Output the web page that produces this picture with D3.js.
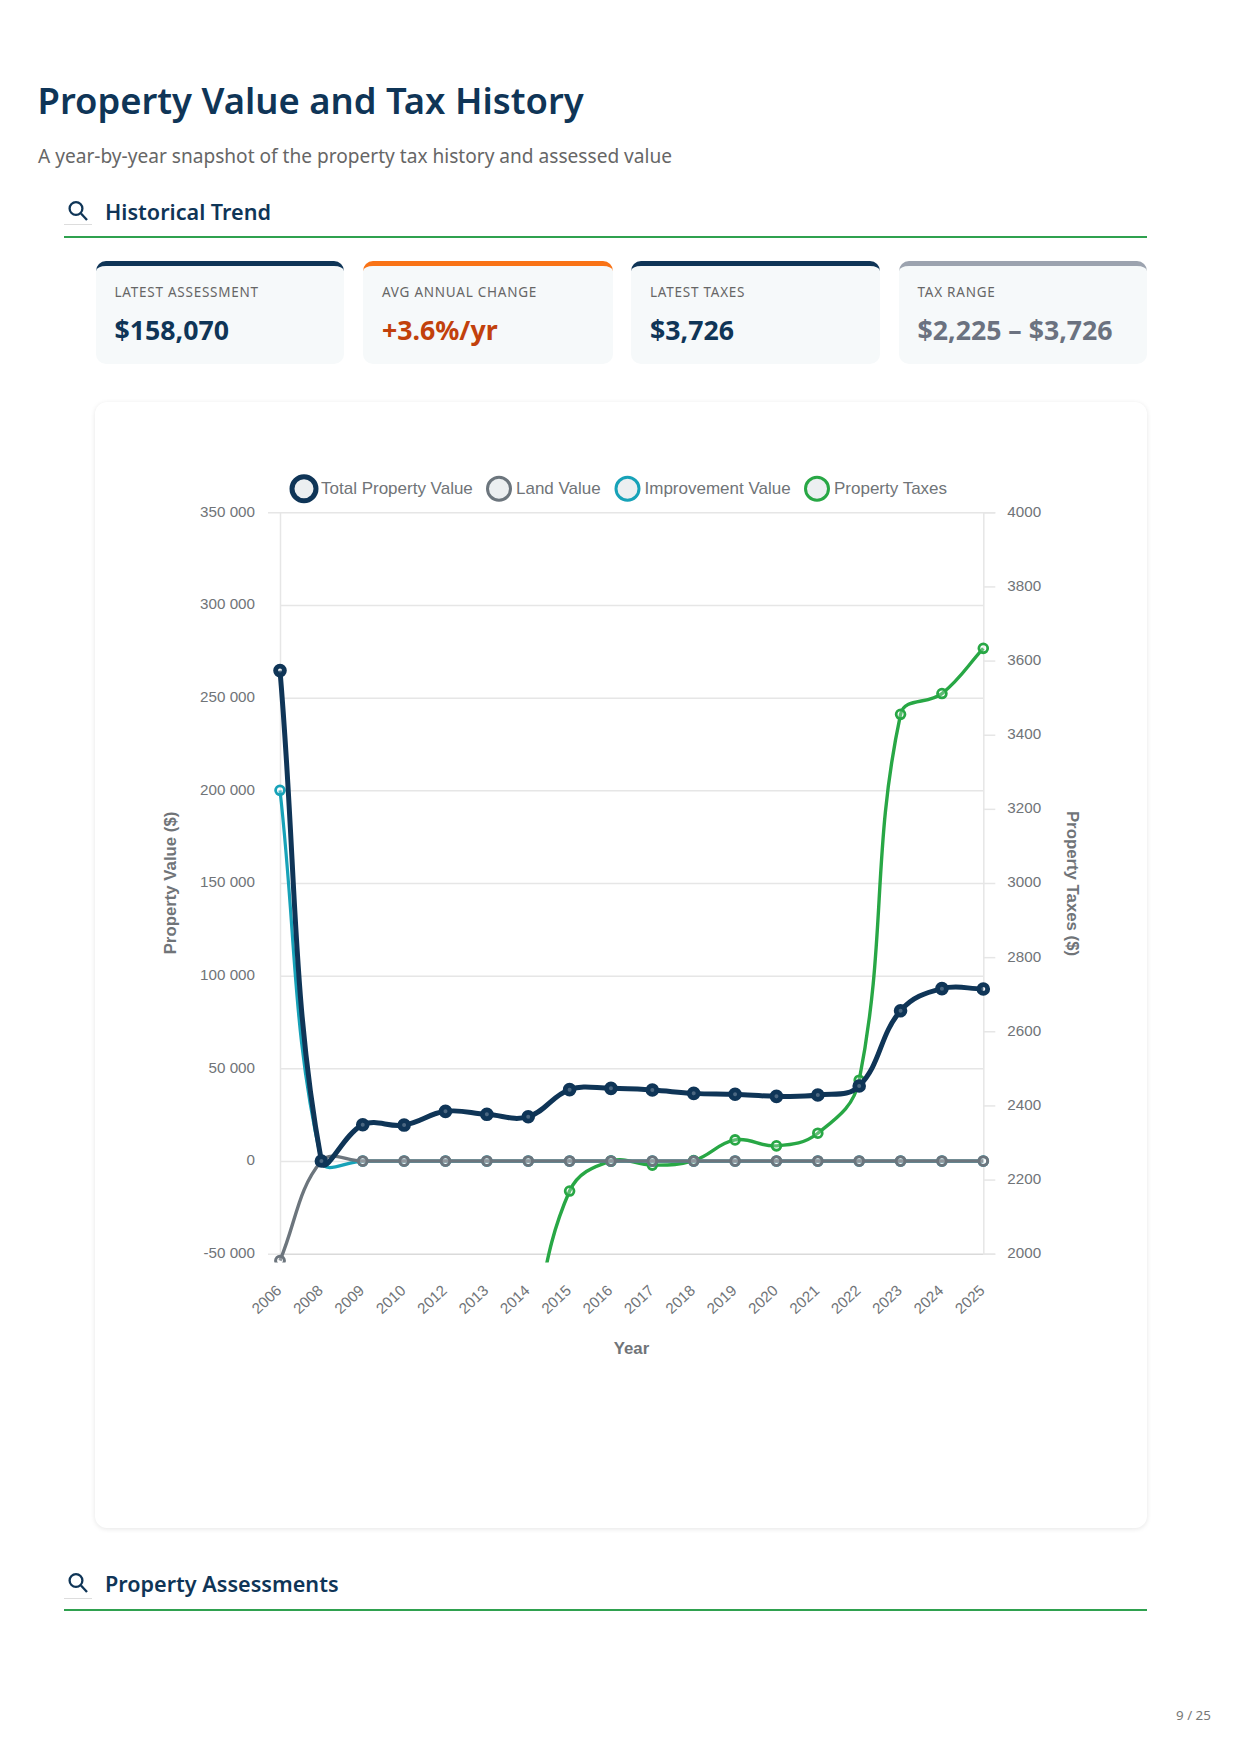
<!DOCTYPE html>
<html>
<head>
<meta charset="utf-8">
<style>
html, body { margin: 0; padding: 0; background: #fff; }
body { width: 1242px; height: 1754px; position: relative; overflow: hidden; font-family: "Noto Sans", sans-serif; }
.abs { position: absolute; white-space: nowrap; }
.page-title { left: 37.5px; top: 72px; font-size: 36.4px; line-height: 56px; font-weight: 600; color: #0f3557; }
.subtitle { left: 38px; top: 141px; font-size: 19.1px; line-height: 30px; color: #666; }
.section-title { left: 105px; font-size: 21.6px; line-height: 32px; font-weight: 600; color: #0f3557; }
.section-rule { left: 64px; width: 1083px; height: 2px; background: #2fa14f; }
.section-stub { left: 64px; width: 28px; height: 1px; background: #ddd; }
.kpi { box-sizing: border-box; top: 261px; height: 103px; border-radius: 10px; border-top: 5px solid; background: #f6f9fa; }
.kpi .lbl { position: absolute; left: 19px; top: 16px; font-size: 13.5px; line-height: 20px; letter-spacing: 0.75px; color: #666; }
.kpi .val { position: absolute; left: 19px; top: 45px; font-size: 26.7px; line-height: 38px; font-weight: 700; }
.chart-card { left: 95px; top: 402px; width: 1052px; height: 1126px; box-sizing: border-box; border-radius: 12px; background: #fff; box-shadow: 0 1px 5px rgba(0,0,0,.10); }
.page-no { left: 1176px; top: 1706px; font-size: 13.4px; line-height: 18px; color: #777; }
svg#chart { position: absolute; left: 0; top: 0; }
svg#chart text { font-family: "Liberation Sans", Arial, sans-serif; }
</style>
</head>
<body>
<div class="abs page-title">Property Value and Tax History</div>
<div class="abs subtitle">A year-by-year snapshot of the property tax history and assessed value</div>
<div class="abs chart-card"></div>
<svg id="chart" width="1242" height="1754"></svg>
<div class="abs page-no">9 / 25</div>
<script src="https://d3js.org/d3.v7.min.js"></script>
<script>
// values
var years = ["2006","2008","2009","2010","2012","2013","2014","2015","2016","2017","2018","2019","2020","2021","2022","2023","2024","2025"];
var totalValue = [264600,0,19600,19400,26800,25200,23900,38500,39200,38300,36500,36000,34900,35600,40500,81100,93000,92800];
var landValue = [-53700,0,0,0,0,0,0,0,0,0,0,0,0,0,0,0,0,0];
var improvementValue = [200000,0,0,0,0,0,0,0,0,0,0,0,0,0,0,0,0,0];
var propertyTaxes = [null,null,null,null,null,null,1740,2169,2250,2239,2251,2307,2291,2325,2468,3455,3511,3633];
var leftTicks = [-50000,0,50000,100000,150000,200000,250000,300000,350000];
var rightTicks = [2000,2200,2400,2600,2800,3000,3200,3400,3600,3800,4000];
var kpiLabels = ["LATEST ASSESSMENT","AVG ANNUAL CHANGE","LATEST TAXES","TAX RANGE"];
var kpiValues = ["$158,070","+3.6%/yr","$3,726","$2,225 – $3,726"];
var sectionNames = ["Historical Trend","Property Assessments"];

var kpiLeft = [95.5,363,631,898.5], kpiWidth = [248,250,248.5,248.5];
var kpiTop = ["#0f3557","#f97316","#0f3557","#9ca3af"], kpiText = ["#0f3557","#c2410c","#0f3557","#6b7280"];
var sectionTop = [196,1568], ruleTop = [236,1609], stubTop = [224,1598];

var body = d3.select("body");
var svg = d3.select("#chart");

var kpi = body.selectAll("div.kpi").data(kpiLabels).enter().append("div")
    .attr("class", "abs kpi")
    .style("left", function(d, i) { return kpiLeft[i] + "px"; })
    .style("width", function(d, i) { return kpiWidth[i] + "px"; })
    .style("border-top-color", function(d, i) { return kpiTop[i]; });
kpi.append("div").attr("class", "lbl").text(function(d) { return d; });
kpi.append("div").attr("class", "val")
    .style("color", function(d, i) { return kpiText[i]; })
    .text(function(d, i) { return kpiValues[i]; });

sectionNames.forEach(function(name, i) {
  body.append("div").attr("class", "abs section-title").style("top", sectionTop[i] + "px").text(name);
  body.append("div").attr("class", "abs section-rule").style("top", ruleTop[i] + "px");
  body.append("div").attr("class", "abs section-stub").style("top", stubTop[i] + "px");
  var icon = svg.append("g").attr("transform", "translate(0," + (sectionTop[i] + 12.5) + ")")
      .attr("fill", "none").attr("stroke", "#0f3557").attr("stroke-width", 2.3);
  icon.append("circle").attr("cx", 76).attr("cy", 0).attr("r", 6.4);
  icon.append("line").attr("x1", 81).attr("y1", 5).attr("x2", 87).attr("y2", 11.5);
});

// same spline the original chart uses (tension 0.4)
function splineCurve(context) {
  var pts;
  return {
    areaStart: function() {}, areaEnd: function() {},
    lineStart: function() { pts = []; },
    point: function(x, y) { pts.push([+x, +y]); },
    lineEnd: function() {
      var t = 0.4, ctrl = pts.map(function(p, i) {
        var a = pts[Math.max(i - 1, 0)], b = pts[Math.min(i + 1, pts.length - 1)];
        var d01 = Math.hypot(p[0] - a[0], p[1] - a[1]), d12 = Math.hypot(b[0] - p[0], b[1] - p[1]);
        var s01 = d01 / (d01 + d12) || 0, s12 = d12 / (d01 + d12) || 0;
        return {
          prev: [p[0] - t * s01 * (b[0] - a[0]), p[1] - t * s01 * (b[1] - a[1])],
          next: [p[0] + t * s12 * (b[0] - a[0]), p[1] + t * s12 * (b[1] - a[1])]
        };
      });
      pts.forEach(function(p, i) {
        if (i == 0) context.moveTo(p[0], p[1]);
        else context.bezierCurveTo(ctrl[i-1].next[0], ctrl[i-1].next[1], ctrl[i].prev[0], ctrl[i].prev[1], p[0], p[1]);
      });
    }
  };
}

var plotLeft = 280, plotRight = 983.3, plotTop = 512.3, plotBottom = 1253.7;
var x = d3.scalePoint().domain(years).range([plotLeft, plotRight]);
var y = d3.scaleLinear().domain([-50000, 350000]).range([plotBottom, plotTop]);
var yTax = d3.scaleLinear().domain([2000, 4000]).range([plotBottom, plotTop]);
var fmt = d3.formatLocale({decimal: ".", thousands: " ", grouping: [3], currency: ["$", ""], minus: "-"}).format(",d");

var gridColor = "#e6e6e6", axisText = "#707478";

var gLeft = svg.append("g").attr("transform", "translate(" + plotLeft + ",0)")
    .call(d3.axisLeft(y).tickValues(leftTicks).tickSize(12).tickPadding(13).tickFormat(fmt));
gLeft.select(".domain").attr("stroke", gridColor).attr("stroke-width", 1.5);
gLeft.selectAll(".tick line").attr("x2", plotRight - plotLeft).attr("stroke-width", 1.5)
    .attr("stroke", function(d) { return d == -50000 ? "#dadada" : gridColor; });

var gRight = svg.append("g").attr("transform", "translate(" + plotRight + ",0)")
    .call(d3.axisRight(yTax).tickValues(rightTicks).tickSize(12).tickPadding(12).tickFormat(d3.format("d")));
gRight.select(".domain").attr("stroke", gridColor).attr("stroke-width", 1.5);
gRight.selectAll(".tick line").attr("stroke", gridColor).attr("stroke-width", 1.5);
svg.selectAll(".tick text").attr("dy", "0.26em");

var gBottom = svg.append("g").attr("transform", "translate(0," + plotBottom + ")")
    .call(d3.axisBottom(x).tickSize(0).tickPadding(0));
gBottom.select(".domain").attr("stroke", "none");
gBottom.selectAll(".tick text")
    .attr("text-anchor", "end")
    .attr("dy", 0)
    .attr("y", 0)
    .attr("transform", "translate(2,38) rotate(-43)");

svg.selectAll(".tick text").attr("fill", axisText).style("font-size", "15.2px");

svg.append("text").attr("transform", "translate(176,883) rotate(-90)")
    .attr("text-anchor", "middle").attr("font-weight", "bold").attr("font-size", 16.8).attr("fill", axisText)
    .text("Property Value ($)");
svg.append("text").attr("transform", "translate(1067,883.5) rotate(90)")
    .attr("text-anchor", "middle").attr("font-weight", "bold").attr("font-size", 16.8).attr("fill", axisText)
    .text("Property Taxes ($)");
svg.append("text").attr("x", 631.5).attr("y", 1354)
    .attr("text-anchor", "middle").attr("font-weight", "bold").attr("font-size", 16.8).attr("fill", axisText)
    .text("Year");

var series = [
  {name: "Property Taxes", values: propertyTaxes, scale: yTax, color: "#28a745", width: 3.4, r: 4.4, sw: 2.8, legendX: 817, legendR: 11.5, legendSw: 3},
  {name: "Improvement Value", values: improvementValue, scale: y, color: "#17a2b8", width: 3.2, r: 4.4, sw: 2.8, legendX: 627.5, legendR: 11.5, legendSw: 3},
  {name: "Land Value", values: landValue, scale: y, color: "#6c757d", width: 3.4, r: 4.4, sw: 3, legendX: 499, legendR: 11.5, legendSw: 3},
  {name: "Total Property Value", values: totalValue, scale: y, color: "#0f3557", width: 5, r: 4.4, sw: 4.8, legendX: 304, legendR: 12, legendSw: 5}
];

svg.append("defs").append("clipPath").attr("id", "plot-clip").append("rect")
    .attr("x", plotLeft - 14).attr("y", plotTop - 14).attr("width", plotRight - plotLeft + 28).attr("height", plotBottom + 8.8 - plotTop + 14);
var plot = svg.append("g").attr("clip-path", "url(#plot-clip)");

series.forEach(function(s) {
  var line = d3.line().curve(splineCurve)
      .defined(function(d) { return d != null; })
      .x(function(d, i) { return x(years[i]); })
      .y(function(d) { return s.scale(d); });
  plot.append("path").attr("d", line(s.values)).attr("fill", "none").attr("stroke", s.color).attr("stroke-width", s.width);
  plot.selectAll(null).data(s.values.map(function(v, i) { return {v: v, year: years[i]}; }).filter(function(d) { return d.v != null; }))
    .enter().append("circle")
      .attr("cx", function(d) { return x(d.year); })
      .attr("cy", function(d) { return s.scale(d.v); })
      .attr("r", s.r)
      .attr("fill", "#fff").attr("fill-opacity", 0.25)
      .attr("stroke", s.color).attr("stroke-width", s.sw);
  // legend
  svg.append("circle").attr("cx", s.legendX).attr("cy", 488.7).attr("r", s.legendR)
      .attr("fill", "#eceff1").attr("stroke", s.color).attr("stroke-width", s.legendSw);
  svg.append("text").attr("x", s.legendX + 17).attr("y", 494).attr("font-size", 17).attr("fill", axisText).text(s.name);
});
</script>
</body>
</html>
